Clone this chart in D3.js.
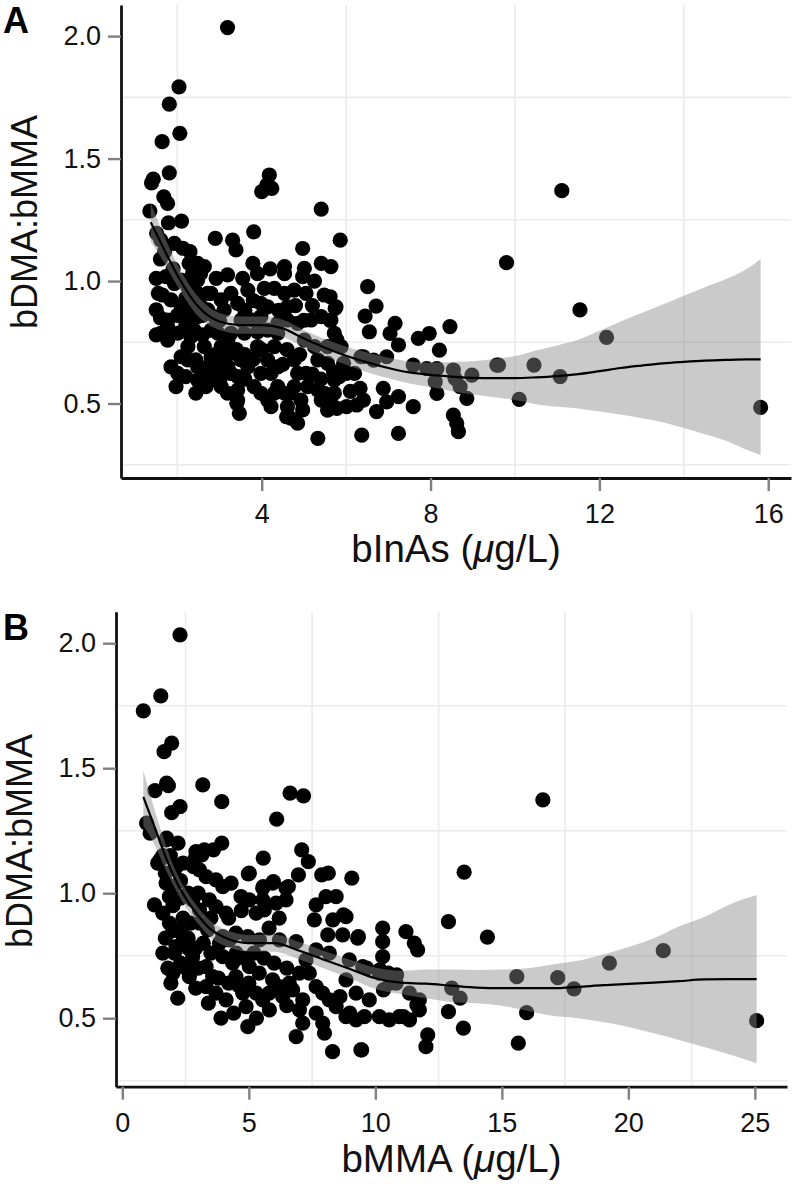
<!DOCTYPE html>
<html><head><meta charset="utf-8">
<script src="https://cdn.jsdelivr.net/npm/d3@7"></script>
<style>body{margin:0;background:#fff}</style>
</head><body><svg id="c" width="797" height="1190"></svg>
<script>
// Panel A: bInAs vs bDMA:bMMA
const ptsA = [
[3.19,2.035],[2.04,1.793],[1.81,1.722],[2.06,1.603],[1.64,1.569],[1.43,1.416],[1.39,1.401],[1.81,1.442],[1.68,1.344],[1.77,1.317],
[1.35,1.286],[4.18,1.433],[4.12,1.392],[4.00,1.365],[4.24,1.378],[5.41,1.294],[5.86,1.167],[2.10,1.245],[1.79,1.238],[1.51,1.195],
[3.81,1.201],[2.90,1.174],[3.31,1.167],[3.39,1.127],[4.97,1.133],[3.79,1.072],[4.54,1.059],[4.54,1.030],[5.41,1.072],[5.64,1.059],
[5.01,1.052],[4.97,1.018],[1.93,1.154],[2.13,1.134],[1.61,1.167],[2.28,1.072],[2.48,1.072],[2.64,1.059],[2.09,1.004],[2.36,1.031],
[2.48,1.004],[2.92,1.011],[3.19,1.025],[3.55,1.011],[2.72,0.950],[3.04,0.923],[3.67,0.963],[4.06,0.970],[3.98,0.909],[4.14,0.895],
[4.54,0.950],[4.61,0.895],[4.77,0.963],[5.25,1.000],[5.05,0.950],[5.48,0.943],[5.76,0.895],[1.50,1.011],[1.73,1.018],[1.65,0.943],
[1.85,0.923],[1.50,0.882],[1.77,0.841],[1.50,0.780],[1.77,0.759],[2.09,0.895],[2.25,0.855],[2.48,0.855],[2.72,0.882],[1.77,0.814],
[2.25,0.732],[2.09,0.691],[2.32,0.773],[2.64,0.732],[2.80,0.691],[2.72,0.650],[2.96,0.787],[3.04,0.732],[3.11,0.678],[2.96,0.637],
[3.27,0.705],[3.51,0.678],[3.67,0.650],[3.90,0.732],[4.14,0.678],[3.98,0.623],[4.38,0.787],[4.30,0.732],[4.61,0.841],[4.85,0.827],
[5.17,0.841],[5.41,0.855],[5.64,0.841],[5.72,0.787],[5.56,0.732],[5.33,0.678],[5.56,0.664],[3.51,0.841],[3.79,0.841],[3.98,0.855],
[3.27,0.787],[3.59,0.787],[3.90,0.793],[4.14,0.800],[4.38,0.827],[5.01,0.759],[5.25,0.732],[2.88,0.855],[3.11,0.882],[2.48,0.950],
[2.48,0.923],[2.25,0.977],[3.27,0.950],[3.43,0.909],[1.93,0.990],[2.01,0.787],[1.61,0.787],[2.44,0.678],[2.48,0.650],[2.25,0.678],
[2.80,0.596],[3.04,0.610],[3.27,0.623],[3.43,0.610],[4.22,0.623],[4.38,0.650],[4.38,0.569],[4.54,0.542],[5.48,0.542],[5.64,0.501],
[1.85,0.650],[2.01,0.623],[1.97,0.569],[2.48,0.596],[2.68,0.569],[2.44,0.542],[3.04,0.569],[3.19,0.542],[3.82,0.569],[3.98,0.542],
[3.43,0.555],[3.43,0.514],[3.47,0.460],[4.30,0.542],[4.14,0.514],[4.22,0.487],[4.93,0.514],[4.61,0.487],[4.97,0.474],[4.77,0.678],
[4.85,0.623],[4.77,0.569],[4.69,0.542],[5.05,0.623],[5.09,0.569],[5.33,0.555],[5.41,0.514],[5.72,0.596],[5.72,0.542],[5.56,0.473],
[4.69,0.440],[4.85,0.420],[5.33,0.358],[3.41,0.501],[4.59,0.446],
[2.20,0.820],[2.40,0.800],[2.60,0.780],[2.60,0.860],[2.80,0.800],[2.20,0.930],[2.00,0.860],[2.35,0.880],[2.55,0.900],[2.80,0.950],
[3.00,0.840],[2.90,0.700],[3.20,0.760],[3.40,0.720],[3.60,0.700],[3.00,0.660],[3.20,0.650],[3.80,0.680],[2.30,1.120],[2.55,1.030],
[1.90,1.050],[1.60,1.090],[1.70,1.120],[1.55,0.950],[1.60,0.850],[2.20,0.610],[2.60,0.620],[3.60,0.600],[4.00,0.720],[4.60,0.720],
[4.50,0.660],[4.90,0.700],[5.20,0.620],[5.40,0.600],[5.00,0.840],[4.80,0.900],[5.20,0.900],[3.80,0.920],[3.60,0.880],[4.40,0.880],
[4.30,0.970],[3.90,1.030],[4.20,1.050],
[6.51,0.977],[6.71,0.898],[6.45,0.857],[6.55,0.793],[7.16,0.827],[7.04,0.786],[7.24,0.739],[7.71,0.766],[7.97,0.786],[8.46,0.814],
[8.21,0.718],[6.41,0.691],[6.65,0.677],[6.96,0.691],[7.59,0.657],[7.91,0.643],[8.15,0.643],[8.11,0.589],[8.54,0.637],[8.98,0.616],
[8.70,0.569],[8.86,0.521],[8.15,0.541],[9.57,0.657],[8.54,0.453],[8.62,0.419],[8.66,0.385],[7.59,0.487],[7.24,0.528],[6.88,0.562],
[6.96,0.507],[6.72,0.467],[6.33,0.562],[6.41,0.514],[6.01,0.487],[5.78,0.480],[6.25,0.494],[6.37,0.371],[7.24,0.378],[5.94,0.664],
[6.01,0.623],[6.20,0.623],[6.35,0.691],[6.10,0.550],[5.62,0.936],[5.74,0.888],[5.62,0.840],[5.78,0.760],[5.70,0.630],[5.88,0.732],
[5.84,0.610],[9.80,1.075],[11.11,1.369],[11.54,0.882],[12.17,0.770],[9.61,0.657],[10.45,0.657],[11.07,0.610],[10.10,0.517],[15.82,0.484],
[8.58,0.603]
];
// Panel B: bMMA vs bDMA:bMMA
const ptsB = [
[2.28,2.033],[1.52,1.789],[0.83,1.729],[1.95,1.600],[1.65,1.566],[1.75,1.440],[1.82,1.430],[1.29,1.410],[3.18,1.433],[3.93,1.366],
[2.28,1.346],[1.95,1.322],[6.10,1.296],[6.63,1.400],[7.16,1.389],[0.96,1.280],[1.10,1.240],[1.75,1.220],[1.49,1.133],[7.09,1.173],
[7.35,1.126],[5.57,1.140],[3.93,1.200],[3.60,1.173],[3.14,1.153],[2.81,1.106],[4.98,1.077],[5.97,1.046],[7.88,1.073],[8.14,1.080],
[9.07,1.060],[6.96,1.073],[6.56,1.026],[5.57,1.026],[16.62,1.373],[13.51,1.084],[1.73,1.213],[1.40,1.120],[1.27,0.953],[2.91,1.166],
[3.24,1.173],[2.85,1.133],[3.05,1.093],[5.02,1.080],[1.73,1.040],[1.99,1.026],[1.86,0.986],[3.31,1.066],[3.70,1.053],[3.97,1.026],
[4.30,1.040],[4.69,0.986],[5.55,1.020],[5.94,1.040],[6.47,1.020],[5.02,0.973],[5.55,0.973],[6.08,0.960],[6.47,0.973],[5.29,0.920],
[5.61,0.933],[7.66,0.953],[8.05,0.986],[8.45,0.986],[7.59,0.893],[8.32,0.893],[8.84,0.906],[8.12,0.833],[8.71,0.833],[9.30,0.820],
[10.29,0.860],[10.29,0.806],[10.29,0.746],[11.21,0.846],[11.54,0.800],[11.67,0.773],[1.60,0.920],[1.86,0.880],[2.19,0.853],[2.78,0.973],
[3.05,0.933],[3.44,0.973],[3.70,0.946],[4.10,0.920],[3.05,0.880],[3.37,0.853],[2.12,0.786],[2.06,0.760],[2.78,0.746],[2.65,0.666],
[1.92,0.640],[2.19,0.580],[3.31,0.706],[3.57,0.666],[3.31,0.626],[3.70,0.600],[4.10,0.573],[3.97,0.746],[4.36,0.720],[3.84,0.800],
[4.23,0.813],[4.49,0.666],[4.76,0.600],[4.89,0.546],[5.02,0.706],[5.41,0.680],[5.29,0.600],[5.55,0.573],[5.81,0.533],[5.94,0.653],
[6.21,0.626],[4.96,0.466],[6.34,0.586],[6.73,0.613],[7.00,0.680],[7.26,0.733],[7.39,0.680],[7.13,0.573],[7.00,0.533],[7.13,0.480],
[6.87,0.426],[7.66,0.626],[7.92,0.600],[8.18,0.573],[7.66,0.520],[7.92,0.480],[7.99,0.440],[8.31,0.366],[8.45,0.546],[8.84,0.506],
[9.24,0.493],[9.57,0.506],[8.84,0.653],[9.24,0.600],[9.76,0.573],[9.43,0.373],[10.16,0.506],[10.55,0.493],[10.95,0.506],[11.35,0.493],
[11.35,0.600],[11.74,0.573],[11.74,0.533],[12.07,0.433],[12.00,0.386],
[3.97,0.826],[4.49,0.840],[4.96,0.826],[5.42,0.813],[6.21,0.813],[6.87,0.806],[7.66,0.773],[8.18,0.760],[8.97,0.733],[9.50,0.706],
[10.16,0.680],[10.69,0.666],[10.82,0.640],
[2.40,0.900],[2.60,0.820],[2.90,0.780],[3.20,0.800],[3.50,0.760],[3.00,0.700],[2.50,0.700],[2.90,0.620],[3.50,0.900],[4.20,0.900],
[4.50,0.760],[4.80,0.740],[5.20,0.760],[5.60,0.740],[6.00,0.720],[6.50,0.700],[6.20,0.900],[4.70,0.930],[5.80,0.860],[2.30,1.050],
[2.60,1.000],[3.00,1.000],[2.10,1.100],[2.40,1.120],[4.60,0.630],[5.00,0.640],[6.60,0.640],[5.80,0.600],[3.80,0.660],[4.20,0.640],
[3.40,0.560],[4.40,0.520],[5.30,0.500],[6.50,0.550],[3.90,0.500],
[1.60,1.150],[1.90,1.150],[2.20,1.200],[1.70,1.080],[2.00,0.950],[2.30,0.980],[1.70,0.820],[2.00,0.850],[2.40,0.830],[1.60,0.760],
[2.30,0.720],[1.80,0.700],[2.00,0.680],[2.60,0.780],[2.70,0.880],
[12.89,0.886],[14.43,0.824],[8.74,0.913],[9.33,0.826],[15.59,0.666],[13.02,0.620],[13.35,0.580],[12.89,0.526],[13.48,0.460],[15.65,0.400],
[9.46,0.373],[9.66,0.700],[10.18,0.693],[10.51,0.680],[10.84,0.673],[10.58,0.640],[10.32,0.613],[8.60,0.586],[8.99,0.520],[11.11,0.506],
[17.21,0.662],[17.85,0.617],[19.25,0.720],[21.38,0.770],[25.07,0.490],[15.98,0.522],[11.64,0.553]
];
// Smoothed fits with confidence band
const fitAx  = [1.37,1.6,2.0,2.5,3.0,3.5,4.0,4.5,5.0,5.5,6.0,6.5,7.0,7.5,8.0,8.5,9.0,9.5,10.0,10.5,11.0,11.5,12.0,12.5,13.0,13.5,14.0,14.5,15.0,15.5,15.82];
const fitAy  = [1.24,1.16,1.025,0.895,0.835,0.82,0.82,0.807,0.765,0.728,0.695,0.668,0.645,0.627,0.617,0.61,0.605,0.604,0.604,0.607,0.612,0.62,0.632,0.645,0.655,0.664,0.67,0.675,0.678,0.68,0.68];
const fitAlo = [1.16,1.10,0.98,0.855,0.80,0.785,0.785,0.772,0.73,0.693,0.658,0.628,0.603,0.582,0.567,0.55,0.537,0.526,0.514,0.497,0.487,0.48,0.467,0.455,0.44,0.424,0.40,0.375,0.348,0.31,0.29];
const fitAhi = [1.32,1.22,1.07,0.935,0.87,0.855,0.855,0.842,0.80,0.763,0.732,0.708,0.687,0.672,0.667,0.67,0.673,0.682,0.694,0.717,0.737,0.76,0.797,0.835,0.87,0.904,0.94,0.975,1.008,1.05,1.09];
const fitBx  = [0.83,1.2,1.6,2.0,2.5,3.0,3.5,4.0,4.5,5.0,6.0,7.0,8.0,9.0,10.0,11.0,12.0,13.0,14.0,15.0,16.0,17.0,18.0,19.0,20.0,21.0,22.0,23.0,24.0,25.07];
const fitBy  = [1.385,1.285,1.175,1.075,0.98,0.91,0.855,0.825,0.807,0.80,0.80,0.77,0.733,0.697,0.66,0.642,0.638,0.63,0.622,0.62,0.62,0.62,0.625,0.632,0.637,0.642,0.648,0.655,0.656,0.656];
const fitBlo = [1.27,1.21,1.12,1.035,0.945,0.877,0.822,0.792,0.774,0.767,0.766,0.735,0.698,0.66,0.617,0.597,0.58,0.565,0.56,0.55,0.53,0.51,0.50,0.485,0.465,0.44,0.413,0.385,0.355,0.32];
const fitBhi = [1.49,1.36,1.23,1.115,1.015,0.943,0.888,0.858,0.84,0.833,0.834,0.805,0.768,0.734,0.703,0.69,0.695,0.695,0.693,0.695,0.70,0.715,0.73,0.755,0.785,0.82,0.867,0.905,0.955,0.993];

const xTicksA = [4,8,12,16];
const xTicksB = [0,5,10,15,20,25];
const yTicks = [0.5,1.0,1.5,2.0];
const gridXA = [2,6,10,14];
const gridXB = [2.5,7.5,12.5,17.5,22.5];
const gridY = [0.25,0.75,1.25,1.75];

const svg = d3.select("#c");
const FONT = "'Liberation Sans', Arial, Helvetica, sans-serif";

function panel(o) {
  const x = d3.scaleLinear().domain(o.xd).range([o.l, o.r]);
  const y = d3.scaleLinear().domain(o.yd).range([o.b, o.t]);
  const g = svg.append("g");
  // grid
  g.selectAll(null).data(o.gx).join("line")
    .attr("x1", d => x(d)).attr("x2", d => x(d)).attr("y1", o.t).attr("y2", o.b)
    .attr("stroke", "#ebebeb").attr("stroke-width", 1.6);
  g.selectAll(null).data(gridY).join("line")
    .attr("y1", d => y(d)).attr("y2", d => y(d)).attr("x1", o.l).attr("x2", o.r)
    .attr("stroke", "#ebebeb").attr("stroke-width", 1.6);
  // points
  g.selectAll(null).data(o.pts).join("circle")
    .attr("cx", d => x(d[0])).attr("cy", d => y(d[1])).attr("r", 7.6)
    .attr("fill", "#000");
  // ribbon
  const band = o.fx.map((v, i) => ({x: v, y: o.fy[i], lo: o.flo[i], hi: o.fhi[i]}));
  g.append("path").datum(band)
    .attr("d", d3.area().x(d => x(d.x)).y0(d => y(d.lo)).y1(d => y(d.hi)).curve(d3.curveMonotoneX))
    .attr("fill", "#8a8a8a").attr("fill-opacity", 0.45);
  g.append("path").datum(band)
    .attr("d", d3.line().x(d => x(d.x)).y(d => y(d.y)).curve(d3.curveMonotoneX))
    .attr("fill", "none").attr("stroke", "#000").attr("stroke-width", 2.2);
  // axes
  const ax = g.append("g").attr("transform", `translate(0,${o.b})`)
    .call(d3.axisBottom(x).tickValues(o.xt).tickSize(13).tickSizeOuter(0).tickPadding(13).tickFormat(d3.format("d")));
  const ay = g.append("g").attr("transform", `translate(${o.l},0)`)
    .call(d3.axisLeft(y).tickValues(yTicks).tickSize(13).tickSizeOuter(0).tickPadding(7).tickFormat(d3.format(".1f")));
  [ax, ay].forEach(a => {
    a.select(".domain").attr("stroke", "#111").attr("stroke-width", 2.8);
    a.selectAll(".tick line").attr("stroke", "#808080").attr("stroke-width", 2.4);
    a.selectAll(".tick text").attr("font-family", FONT).attr("font-size", 27).attr("fill", "#111");
  });
  // titles
  const xt = g.append("text").attr("x", (o.l + o.r) / 2).attr("y", o.xtY)
    .attr("text-anchor", "middle").attr("font-family", FONT).attr("font-size", 38.5).attr("fill", "#111");
  xt.append("tspan").text(o.xlab + " (");
  xt.append("tspan").attr("font-style", "italic").text("\u03bc");
  xt.append("tspan").text("g/L)");
  g.append("text").attr("transform", `translate(${o.ytX},${o.ytC}) rotate(-90)`)
    .attr("text-anchor", "middle").attr("font-family", FONT).attr("font-size", 36).attr("fill", "#111")
    .text("bDMA:bMMA");
  g.append("text").attr("x", 3).attr("y", o.tagY).attr("font-family", FONT).attr("font-weight", "bold")
    .attr("font-size", 36).attr("fill", "#000").text(o.tag);
}

panel({l:121, r:791, t:5, b:478, xd:[0.666,16.54], yd:[0.196,2.127], gx:gridXA, xt:xTicksA,
  pts:ptsA, fx:fitAx, fy:fitAy, flo:fitAlo, fhi:fitAhi, xlab:"bInAs", xtY:562, ytX:37, ytC:222, tag:"A", tagY:33});
panel({l:116, r:787, t:611.7, b:1086.7, xd:[-0.25,26.27], yd:[0.226,2.126], gx:gridXB, xt:xTicksB,
  pts:ptsB, fx:fitBx, fy:fitBy, flo:fitBlo, fhi:fitBhi, xlab:"bMMA", xtY:1172, ytX:32, ytC:841, tag:"B", tagY:640});
</script>
</body></html>
